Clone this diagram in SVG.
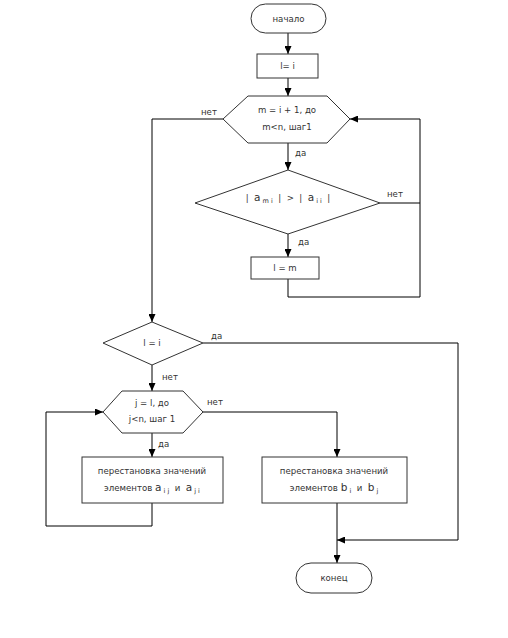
<svg xmlns="http://www.w3.org/2000/svg" width="508" height="638" viewBox="0 0 508 638">
<defs>
<marker id="arr" markerUnits="userSpaceOnUse" markerWidth="8" markerHeight="7" refX="8" refY="3.5" orient="auto">
<path d="M0,0 L8,3.5 L0,7 z" fill="#000"/>
</marker>
<style>
.s{fill:#fff;stroke:#333;stroke-width:1}
.c{fill:none;stroke:#000;stroke-width:1}
.t{font-family:"DejaVu Sans",Verdana,sans-serif;font-size:8.6px;fill:#333;text-anchor:middle}
.l{font-family:"DejaVu Sans",Verdana,sans-serif;font-size:8.6px;fill:#333}
.big{font-size:10.5px}
.sub{font-size:6.5px}
</style>
</defs>
<rect width="508" height="638" fill="#fff"/>
<g id="connectors">
<path class="c" d="M288,33 V54" marker-end="url(#arr)"/>
<path class="c" d="M288,78 V96" marker-end="url(#arr)"/>
<path class="c" d="M288,143 V170" marker-end="url(#arr)"/>
<path class="c" d="M288,234 V257" marker-end="url(#arr)"/>
<path class="c" d="M288,279 V297 H420 V119 H350" marker-end="url(#arr)"/>
<path class="c" d="M380,203 H420"/>
<path class="c" d="M223,119 H152 V322" marker-end="url(#arr)"/>
<path class="c" d="M203,343 H458 V540 H337" marker-end="url(#arr)"/>
<path class="c" d="M152,365 V391" marker-end="url(#arr)"/>
<path class="c" d="M203,412 H337 V457" marker-end="url(#arr)"/>
<path class="c" d="M152,433 V457" marker-end="url(#arr)"/>
<path class="c" d="M152,503 V526 H46 V412 H103" marker-end="url(#arr)"/>
<path class="c" d="M337,503 V563" marker-end="url(#arr)"/>
<text class="l" x="295" y="156">да</text>
<text class="l" x="298" y="245">да</text>
<text class="l" x="387" y="197">нет</text>
<text class="l" x="201" y="115">нет</text>
<text class="l" x="211" y="339">да</text>
<text class="l" x="162" y="380">нет</text>
<text class="l" x="207" y="405">нет</text>
<text class="l" x="158" y="447">да</text>
</g>
<g id="start">
<rect class="s" x="251" y="4" width="75" height="29" rx="14.5"/>
<text class="t" x="288.5" y="22">начало</text>
</g>
<g id="assign1">
<rect class="s" x="257" y="54" width="61" height="24"/>
<text class="t" x="287.5" y="69">l= i</text>
</g>
<g id="loop1">
<polygon class="s" points="223,119 248,96 327,96 350,119 327,143 248,143"/>
<text class="t" x="287" y="113">m = i + 1, до</text>
<text class="t" x="287" y="130">m&lt;n, шаг1</text>
</g>
<g id="cond1">
<polygon class="s" points="288,170 380,203 288,234 195,203"/>
<text class="t" x="288" y="201" xml:space="preserve">|  <tspan class="big">a</tspan><tspan class="sub" dy="2"> m i</tspan><tspan dy="-2">  |  &gt;  |  </tspan><tspan class="big">a</tspan><tspan class="sub" dy="2"> i i</tspan><tspan dy="-2">  |</tspan></text>
</g>
<g id="assign2">
<rect class="s" x="251" y="257" width="68" height="22"/>
<text class="t" x="285" y="271">l = m</text>
</g>
<g id="cond2">
<polygon class="s" points="152,322 203,343 152,365 103,343"/>
<text class="t" x="152" y="346">l = i</text>
</g>
<g id="loop2">
<polygon class="s" points="103,412 122,391 183,391 203,412 183,433 122,433"/>
<text class="t" x="152" y="406">j = l, до</text>
<text class="t" x="152" y="422">j&lt;n, шаг 1</text>
</g>
<g id="swapA">
<rect class="s" x="82" y="457" width="141" height="46"/>
<text class="t" x="152" y="474">перестановка значений</text>
<text class="t" x="152" y="491" xml:space="preserve">элементов <tspan class="big">a</tspan><tspan class="sub" dy="2"> i j</tspan><tspan dy="-2">  и  </tspan><tspan class="big">a</tspan><tspan class="sub" dy="2"> j i</tspan></text>
</g>
<g id="swapB">
<rect class="s" x="262" y="457" width="145" height="46"/>
<text class="t" x="334" y="474">перестановка значений</text>
<text class="t" x="334" y="491" xml:space="preserve">элементов <tspan class="big">b</tspan><tspan class="sub" dy="2"> i</tspan><tspan dy="-2">  и  </tspan><tspan class="big">b</tspan><tspan class="sub" dy="2"> j</tspan></text>
</g>
<g id="end">
<rect class="s" x="296" y="563" width="76" height="30" rx="15"/>
<text class="t" x="334" y="581">конец</text>
</g>
</svg>
